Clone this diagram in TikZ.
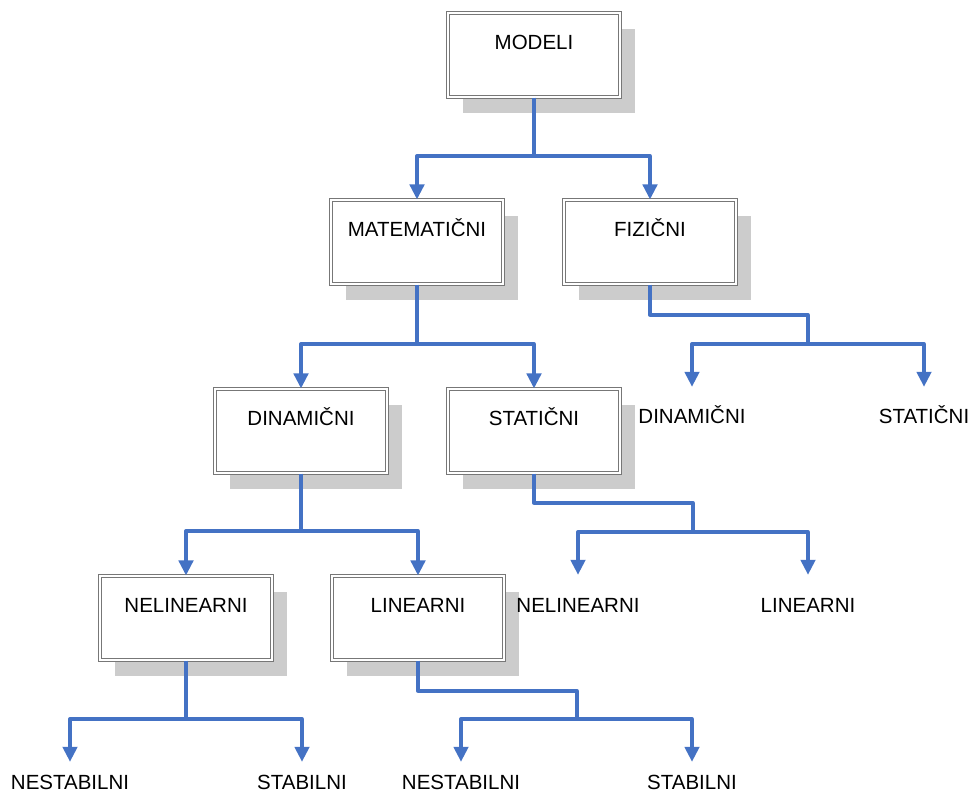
\documentclass[tikz,border=0pt]{standalone}
\usepackage{fontspec}
\setmainfont{Liberation Sans}
\usetikzlibrary{arrows.meta,shadows,positioning}
\definecolor{linkblue}{HTML}{4472C4}
\definecolor{boxline}{HTML}{777777}
\definecolor{shadowgray}{HTML}{CCCCCC}
\begin{document}
\begin{tikzpicture}[x=1pt,y=-1pt,
  font=\fontsize{20.5}{24}\selectfont,
  catbox/.style={draw=boxline, line width=1.2pt, double=white, double distance=1.3pt,
    fill=white, minimum width=172pt, minimum height=84pt, inner sep=0pt,
    drop shadow={shadow xshift=15pt, shadow yshift=-16pt, fill=shadowgray, opacity=1}},
  boxtext/.style={anchor=north, text height=14.5pt, text depth=0pt, inner sep=0pt},
  leaf/.style={text height=14.5pt, text depth=0pt, inner sep=0pt, outer xsep=0pt, outer ysep=#1},
  leaf/.default=22pt,
  link/.style={draw=linkblue, line width=3.3pt, line join=round},
  linkarrow/.style={link, -{Triangle[width=14.5pt,length=15pt]}},
  node distance=22pt
]
\useasboundingbox (0,0) rectangle (971,792);

% category boxes
\node[catbox] (m)   at (534,55)  {};
\node[catbox] (mat) at (417,242) {};
\node[catbox] (fiz) at (650,242) {};
\node[catbox] (din) at (301,431) {};
\node[catbox] (sta) at (534,431) {};
\node[catbox] (nel) at (186,618) {};
\node[catbox] (lin) at (418,618) {};

% box captions
\node[boxtext, below=of m.north]   (mT)   {MODELI};
\node[boxtext, below=of mat.north] (matT) {MATEMATIČNI};
\node[boxtext, below=of fiz.north] (fizT) {FIZIČNI};
\node[boxtext, below=of din.north] (dinT) {DINAMIČNI};
\node[boxtext, below=of sta.north] (staT) {STATIČNI};
\node[boxtext, below=of nel.north] (nelT) {NELINEARNI};
\node[boxtext, below=of lin.north] (linT) {LINEARNI};

% leaf labels
\node[leaf=22pt] (fd)  at (692,416) {DINAMIČNI};
\node[leaf=22pt] (fs)  at (924,416) {STATIČNI};
\node[leaf=23pt] (sn)  at (578,605) {NELINEARNI};
\node[leaf=23pt] (sl)  at (808,605) {LINEARNI};
\node[leaf=13pt] (nn1) at (70,782)  {NESTABILNI};
\node[leaf=13pt] (ns1) at (302,782) {STABILNI};
\node[leaf=13pt] (nn2) at (461,782) {NESTABILNI};
\node[leaf=13pt] (ns2) at (692,782) {STABILNI};

% junction points
\coordinate (j1) at (534,156);
\coordinate (j2) at (417,344);
\coordinate (f1) at (808,315);
\coordinate (j3) at (808,344);
\coordinate (j4) at (301,531);
\coordinate (s1) at (693,503);
\coordinate (j5) at (693,532);
\coordinate (j6) at (186,719);
\coordinate (l1) at (577,691);
\coordinate (j7) at (577,719);

% connectors
\draw[link] (m.south) -- (j1);
\draw[linkarrow] (j1) -| (mat.north);
\draw[linkarrow] (j1) -| (fiz.north);

\draw[link] (mat.south) -- (j2);
\draw[linkarrow] (j2) -| (din.north);
\draw[linkarrow] (j2) -| (sta.north);

\draw[link] (fiz.south) |- (f1) -- (j3);
\draw[linkarrow] (j3) -| (fd.north);
\draw[linkarrow] (j3) -| (fs.north);

\draw[link] (din.south) -- (j4);
\draw[linkarrow] (j4) -| (nel.north);
\draw[linkarrow] (j4) -| (lin.north);

\draw[link] (sta.south) |- (s1) -- (j5);
\draw[linkarrow] (j5) -| (sn.north);
\draw[linkarrow] (j5) -| (sl.north);

\draw[link] (nel.south) -- (j6);
\draw[linkarrow] (j6) -| (nn1.north);
\draw[linkarrow] (j6) -| (ns1.north);

\draw[link] (lin.south) |- (l1) -- (j7);
\draw[linkarrow] (j7) -| (nn2.north);
\draw[linkarrow] (j7) -| (ns2.north);
\end{tikzpicture}
\end{document}
